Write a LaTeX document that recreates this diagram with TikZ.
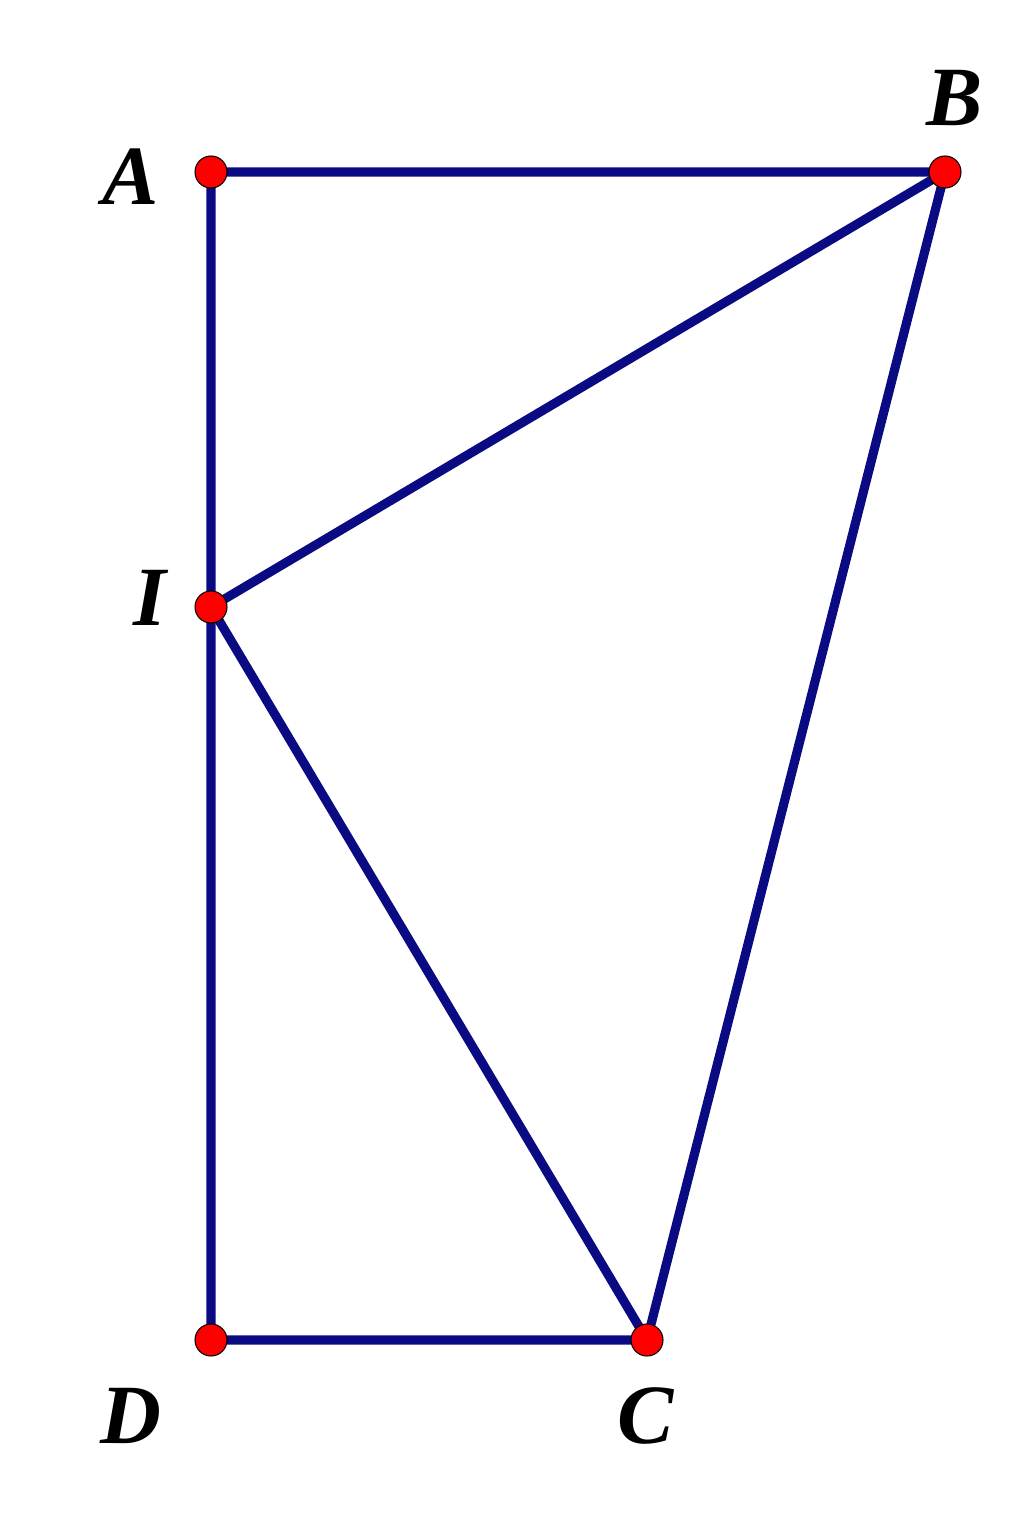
\documentclass[tikz,border=0pt]{standalone}
\usepackage{fontspec}
\setmainfont{Liberation Serif}
\definecolor{navy}{RGB}{10,10,130}
\tikzset{
  side/.style={navy, line width=5.2pt, line join=round},
  pt/.style={fill=red, draw=black, line width=0.6pt},
  lbl/.style={inner sep=0pt, font=\fontsize{48}{48}\selectfont\bfseries\itshape}
}
\begin{document}
\begin{tikzpicture}
\begin{scope}[x=0.02cm,y=-0.02cm]
\useasboundingbox (0,0) rectangle (1024,1524);
\coordinate (A) at (211,172);
\coordinate (B) at (945,172);
\coordinate (I) at (211,607);
\coordinate (D) at (211,1340);
\coordinate (C) at (647,1340);
\draw[side] (A)--(B)--(C)--(D)--cycle;
\draw[side] (B)--(I)--(C);
\foreach \p in {A,B,I,C,D}
  \draw[pt] (\p) circle (0.32cm);
\node[lbl] (lA) at (131,177) {A};
\node[lbl] (lB) at (955,98) {B};
\node[lbl] (lI) at (150,598) {I};
\node[lbl] (lD) at (131,1416) {D};
\node[lbl] (lC) at (646,1416) {C};
\end{scope}
\end{tikzpicture}
\end{document}
